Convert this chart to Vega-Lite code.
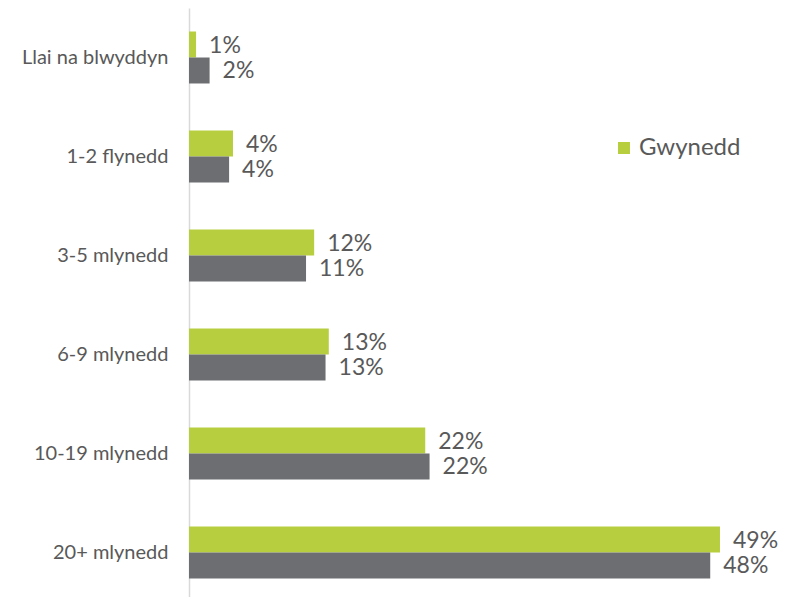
{
  "$schema": "https://vega.github.io/schema/vega-lite/v6.json",
  "width": 596,
  "height": 594,
  "autosize": {"type": "none"},
  "padding": {"left": 189, "top": 8, "right": 0, "bottom": 0},
  "background": "white",
  "config": {
    "view": {"stroke": null},
    "font": "Lato",
    "axis": {"labelFont": "Lato"},
    "legend": {"labelFont": "Lato"}
  },
  "data": {
    "values": [
      {"cat": "Llai na blwyddyn", "series": "Gwynedd", "value": 0.0065},
      {"cat": "Llai na blwyddyn", "series": "Cymru", "value": 0.019},
      {"cat": "1-2 flynedd", "series": "Gwynedd", "value": 0.0406},
      {"cat": "1-2 flynedd", "series": "Cymru", "value": 0.037},
      {"cat": "3-5 mlynedd", "series": "Gwynedd", "value": 0.1155},
      {"cat": "3-5 mlynedd", "series": "Cymru", "value": 0.108},
      {"cat": "6-9 mlynedd", "series": "Gwynedd", "value": 0.129},
      {"cat": "6-9 mlynedd", "series": "Cymru", "value": 0.126},
      {"cat": "10-19 mlynedd", "series": "Gwynedd", "value": 0.218},
      {"cat": "10-19 mlynedd", "series": "Cymru", "value": 0.222},
      {"cat": "20+ mlynedd", "series": "Gwynedd", "value": 0.49},
      {"cat": "20+ mlynedd", "series": "Cymru", "value": 0.481}
    ]
  },
  "encoding": {
    "y": {
      "field": "cat",
      "type": "nominal",
      "sort": null,
      "title": null,
      "scale": {"paddingInner": 0.475, "paddingOuter": 0.2375},
      "axis": {
        "ticks": false,
        "labelFontSize": 20,
        "labelColor": "#595959",
        "labelPadding": 21,
        "labelLimit": 250,
        "domainColor": "#d9d9d9",
        "domainWidth": 1.5
      }
    },
    "yOffset": {"field": "series", "type": "nominal", "sort": ["Gwynedd", "Cymru"]},
    "x": {
      "field": "value",
      "type": "quantitative",
      "scale": {"domain": [0, 0.55]},
      "axis": null
    }
  },
  "layer": [
    {
      "mark": {"type": "bar"},
      "encoding": {
        "color": {
          "field": "series",
          "type": "nominal",
          "scale": {"domain": ["Gwynedd", "Cymru"], "range": ["#b7cf3f", "#6d6e71"]},
          "legend": {
            "values": ["Gwynedd"],
            "title": null,
            "orient": "none",
            "legendX": 423,
            "legendY": 128,
            "symbolType": "square",
            "symbolSize": 144,
            "symbolStrokeWidth": 0,
            "labelFontSize": 24,
            "labelColor": "#595959",
            "labelOffset": 3
          }
        }
      }
    },
    {
      "mark": {"type": "text", "align": "left", "baseline": "middle", "dx": 13, "dy": 1, "fontSize": 23, "color": "#595959"},
      "encoding": {
        "text": {"field": "value", "type": "quantitative", "format": ".0%"}
      }
    }
  ]
}
